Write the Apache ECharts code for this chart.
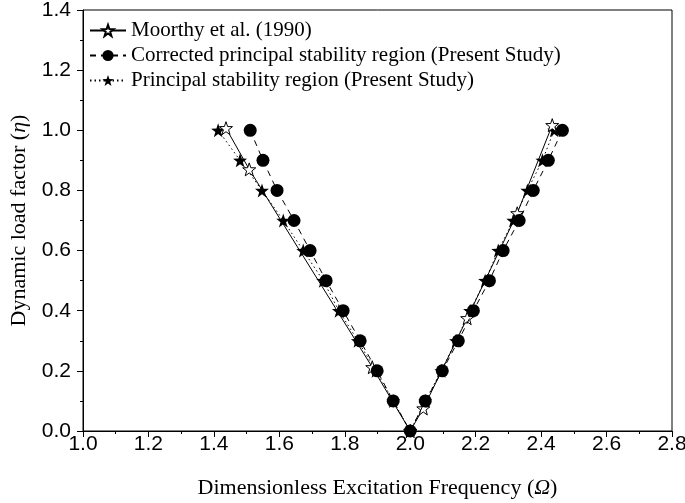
<!DOCTYPE html>
<html>
<head>
<meta charset="utf-8">
<script src="https://cdn.jsdelivr.net/npm/echarts@6/dist/echarts.min.js"></script>
<style>
html,body{margin:0;padding:0;background:#fff;}
#chart{width:685px;height:503px;}
</style>
</head>
<body>
<div id="chart"></div>
<script>
// Moorthy et al. (1990) — [Omega, eta]
var moorthyOmega = [1.437, 1.508, 1.884, 2.0, 2.04, 2.174, 2.327, 2.434];
var moorthyEta   = [1.007, 0.870, 0.212, 0.0, 0.075, 0.375, 0.724, 1.017];

// Corrected principal stability region (Present Study)
var correctedOmega = [1.511, 1.550, 1.593, 1.645, 1.694, 1.743, 1.795, 1.847, 1.899, 1.948, 2.0,
                      2.046, 2.098, 2.147, 2.193, 2.242, 2.284, 2.333, 2.376, 2.422, 2.465];
var correctedEta   = [1.0, 0.9, 0.8, 0.7, 0.6, 0.5, 0.4, 0.3, 0.2, 0.1, 0.0,
                      0.1, 0.2, 0.3, 0.4, 0.5, 0.6, 0.7, 0.8, 0.9, 1.0];

// Principal stability region (Present Study)
var principalOmega = [1.413, 1.480, 1.547, 1.612, 1.673, 1.734, 1.782, 1.840, 1.895, 1.948, 2.0,
                      2.046, 2.095, 2.140, 2.183, 2.229, 2.269, 2.315, 2.358, 2.404, 2.440];
var principalEta   = [1.0, 0.9, 0.8, 0.7, 0.6, 0.5, 0.4, 0.3, 0.2, 0.1, 0.0,
                      0.1, 0.2, 0.3, 0.4, 0.5, 0.6, 0.7, 0.8, 0.9, 1.0];

var seriesNames = ['Moorthy et al. (1990)',
                   'Corrected principal stability region (Present Study)',
                   'Principal stability region (Present Study)'];

function pairs(xs, ys){ return xs.map(function(x,i){ return [x, ys[i]]; }); }

var starPath = 'path://M0,-10 L2.35,-3.24 L9.51,-3.09 L3.8,1.24 L5.88,8.09 L0,4 L-5.88,8.09 L-3.8,1.24 L-9.51,-3.09 L-2.35,-3.24 Z';

var chart = echarts.init(document.getElementById('chart'));
var serif = 'Liberation Serif, Times New Roman, serif';
var sans = 'Liberation Sans, Arial, sans-serif';

chart.setOption({
  animation: false,
  backgroundColor: '#fff',
  grid: { left: 83, right: 13, top: 10, bottom: 72, show: true, borderColor: '#000', borderWidth: 1,
          backgroundColor: 'transparent', containLabel: false, outerBoundsMode: 'none' },
  legend: {
    orient: 'vertical', left: 84, top: 15, itemGap: 4, itemWidth: 36, itemHeight: 14,
    textStyle: { fontFamily: serif, fontSize: 21, color: '#000' },
    data: seriesNames
  },
  xAxis: {
    type: 'value', min: 1.0, max: 2.8, interval: 0.2,
    name: 'Dimensionless Excitation Frequency ({i|Ω})',
    nameLocation: 'middle', nameGap: 46,
    nameTextStyle: { fontFamily: serif, fontSize: 22, color: '#000',
      rich: { i: { fontFamily: serif, fontStyle: 'italic', fontSize: 22, color: '#000' } } },
    axisLine: { lineStyle: { color: '#000', width: 1 } },
    axisTick: { show: true, inside: false, length: 6, lineStyle: { color: '#000' } },
    minorTick: { show: true, splitNumber: 2, length: 3, lineStyle: { color: '#000' } },
    splitLine: { show: false },
    axisLabel: { fontFamily: sans, fontSize: 21, color: '#000', margin: 3,
      formatter: function(v){ return v.toFixed(1); } }
  },
  yAxis: {
    type: 'value', min: 0, max: 1.4, interval: 0.2,
    name: 'Dynamic load factor ({i|η})',
    nameLocation: 'middle', nameGap: 53, nameMoveOverlap: false,
    nameTextStyle: { fontFamily: serif, fontSize: 22, color: '#000',
      rich: { i: { fontFamily: serif, fontStyle: 'italic', fontSize: 22, color: '#000' } } },
    axisLine: { show: true, lineStyle: { color: '#000', width: 1 } },
    axisTick: { show: true, inside: false, length: 6, lineStyle: { color: '#000' } },
    minorTick: { show: true, splitNumber: 2, length: 3, lineStyle: { color: '#000' } },
    splitLine: { show: false },
    axisLabel: { fontFamily: sans, fontSize: 21, color: '#000', margin: 12,
      formatter: function(v){ return v.toFixed(1); } }
  },
  series: [
    {
      name: seriesNames[0], type: 'line', data: pairs(moorthyOmega, moorthyEta),
      symbol: starPath, symbolSize: 13, z: 3,
      lineStyle: { color: '#000', width: 1, type: 'solid' },
      itemStyle: { color: '#fff', borderColor: '#000', borderWidth: 1 }
    },
    {
      name: seriesNames[1], type: 'line', data: pairs(correctedOmega, correctedEta),
      symbol: 'circle', symbolSize: 13, z: 4,
      lineStyle: { color: '#000', width: 1, type: [6, 5] },
      itemStyle: { color: '#000', borderColor: '#000', borderWidth: 0 }
    },
    {
      name: seriesNames[2], type: 'line', data: pairs(principalOmega, principalEta),
      symbol: starPath, symbolSize: 14, z: 2,
      lineStyle: { color: '#000', width: 1, type: [1.5, 3] },
      itemStyle: { color: '#000', borderColor: '#000', borderWidth: 0 }
    }
  ]
});
</script>
</body>
</html>
